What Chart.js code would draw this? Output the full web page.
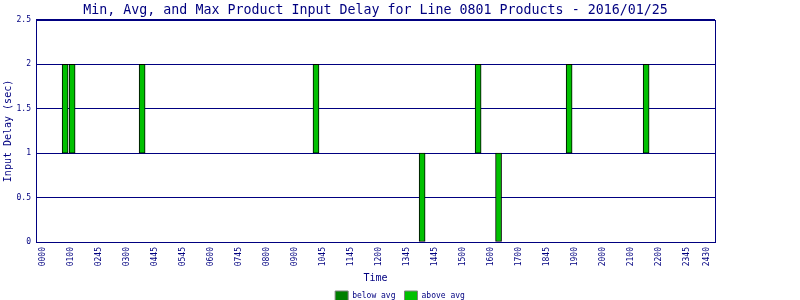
<!DOCTYPE html>
<html lang="en">
  <head>
    <meta charset="utf-8" />
    <title>Input Delay</title>
    <style>
      html, body { margin: 0; padding: 0; background: #fff; }
      #wrap { width: 800px; height: 300px; }
    </style>
  </head>
  <body>
    <div id="wrap"><canvas id="chart"></canvas></div>
    <script src="https://cdn.jsdelivr.net/npm/chart.js@4.4.1/dist/chart.umd.min.js"></script>
    <script>
      // time axis labels, placed at hour slots
      const tickLabels = ['0000','0100','0245','0300','0445','0545','0600','0745','0800','0900','1045','1145',
                          '1200','1345','1445','1500','1600','1700','1845','1900','2000','2100','2200','2345','2430'];
      const tickPos = [0,1,2,3,4,5,6,7,8,9,10,11,12,13,14,15,16,17,18,19,20,21,22,23,23.7];

      // bars: time (hours), min and max delay
      const barTimes = [0.79, 1.04, 3.54, 9.75, 13.54, 15.54, 16.27, 18.79, 21.54];
      const minDelay = [1, 1, 1, 1, 0, 1, 0, 1, 1];
      const maxDelay = [2, 2, 2, 2, 1, 2, 1, 2, 2];

      const belowAvg = [];
      const aboveAvg = barTimes.map((t, i) => ({ x: t, y: [minDelay[i], maxDelay[i]] }));

      const navy = '#000080';
      const mono = 'DejaVu Sans Mono';

      // plot frame (top and right edges)
      const frame = {
        id: 'frame',
        afterDatasetsDraw(chart) {
          const a = chart.chartArea;
          const ctx = chart.ctx;
          ctx.save();
          ctx.strokeStyle = navy;
          ctx.lineWidth = 1;
          ctx.strokeRect(Math.round(a.left) + 0.5, Math.round(a.top) + 0.5,
                         Math.round(a.right - a.left), Math.round(a.bottom - a.top));
          ctx.restore();
        }
      };

      const barStyle = {
        barThickness: 6,
        borderWidth: 1,
        borderColor: '#000000',
        borderSkipped: false,
        grouped: false
      };

      new Chart(document.getElementById('chart'), {
        type: 'bar',
        data: {
          datasets: [{
            label: 'below avg',
            data: belowAvg,
            backgroundColor: '#008000',
            ...barStyle
          }, {
            label: 'above avg',
            data: aboveAvg,
            backgroundColor: '#00c000',
            ...barStyle
          }]
        },
        options: {
          responsive: true,
          maintainAspectRatio: false,
          animation: false,
          layout: { padding: { left: 0, right: 0, top: 0, bottom: -11 } },
          plugins: {
            tooltip: { enabled: false },
            title: {
              display: true,
              text: 'Min, Avg, and Max Product Input Delay for Line 0801 Products - 2016/01/25',
              color: navy,
              fullSize: false,
              font: { family: mono, size: 13.3, weight: 'normal' },
              padding: { top: 3, bottom: 1 }
            },
            legend: {
              position: 'bottom',
              labels: {
                color: navy,
                font: { family: mono, size: 8 },
                boxWidth: 13,
                boxHeight: 10,
                padding: 9,
                generateLabels(chart) {
                  return chart.data.datasets.map((d, i) => ({
                    text: d.label,
                    fillStyle: d.backgroundColor,
                    strokeStyle: '#808080',
                    lineWidth: 1,
                    fontColor: navy,
                    datasetIndex: i,
                    hidden: false
                  }));
                }
              }
            }
          },
          scales: {
            x: {
              type: 'linear',
              min: -0.25,
              max: 24,
              offset: false,
              grid: { display: false, drawTicks: false },
              border: { display: true, color: navy },
              afterBuildTicks(scale) {
                scale.ticks = tickPos.map(v => ({ value: v }));
              },
              afterFit(scale) { scale.height = 40; },
              ticks: {
                autoSkip: false,
                maxRotation: 90,
                minRotation: 90,
                padding: 5,
                color: navy,
                font: { family: mono, size: 8 },
                callback: (v, i) => tickLabels[i]
              },
              title: {
                display: true,
                text: 'Time',
                color: navy,
                font: { family: mono, size: 10 },
                padding: { top: 4, bottom: -2 }
              }
            },
            y: {
              min: 0,
              max: 2.5,
              grid: { color: navy, drawTicks: false },
              border: { display: true, color: navy },
              afterFit(scale) { scale.width = 36; },
              ticks: {
                stepSize: 0.5,
                padding: 5,
                color: navy,
                font: { family: mono, size: 8 },
                callback: v => String(v)
              },
              title: {
                display: true,
                text: 'Input Delay (sec)',
                color: navy,
                font: { family: mono, size: 10 },
                padding: { top: 2, bottom: 0 }
              }
            },
            // empty right-hand spacer so the legend stays centred on the page
            pad: {
              type: 'linear',
              position: 'right',
              display: true,
              grid: { display: false, drawTicks: false },
              border: { display: false },
              ticks: { display: false },
              afterFit(scale) { scale.width = 85; }
            }
          }
        },
        plugins: [frame]
      });
    </script>
  </body>
</html>
